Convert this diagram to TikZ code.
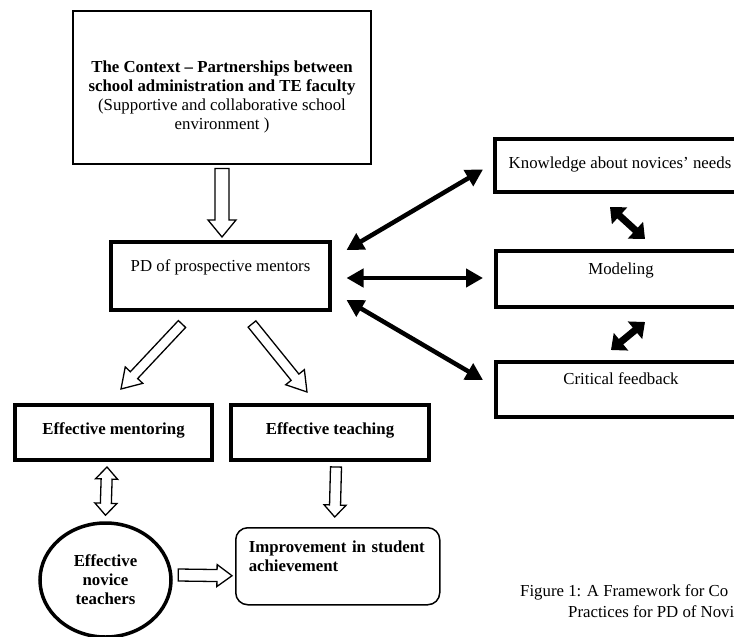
\documentclass[tikz,border=0pt]{standalone}
\usepackage{fontspec}
\setmainfont{Liberation Serif}
\usetikzlibrary{arrows.meta,calc,shapes.geometric}

% Hollow block arrow: from, to, half shaft, half head, head length
\newcommand{\blockarrow}[5]{%
  \path let \p1=(#1), \p2=(#2) in
    \pgfextra{\pgfmathparse{atan2(\y2-\y1,\x2-\x1)}\xdef\barang{\pgfmathresult}%
              \pgfmathparse{veclen(\x2-\x1,\y2-\y1)}\xdef\barlen{\pgfmathresult}};
  \begin{scope}[shift={(#1)},rotate=\barang]
    \draw[hollow] (0pt,-#3pt) -- ({\barlen pt-#5pt},-#3pt) -- ({\barlen pt-#5pt},-#4pt)
      -- (\barlen pt,0pt) -- ({\barlen pt-#5pt},#4pt) -- ({\barlen pt-#5pt},#3pt)
      -- (0pt,#3pt) -- cycle;
  \end{scope}}

% Hollow block arrow with two heads
\newcommand{\blockarrowboth}[5]{%
  \path let \p1=(#1), \p2=(#2) in
    \pgfextra{\pgfmathparse{atan2(\y2-\y1,\x2-\x1)}\xdef\barang{\pgfmathresult}%
              \pgfmathparse{veclen(\x2-\x1,\y2-\y1)}\xdef\barlen{\pgfmathresult}};
  \begin{scope}[shift={(#1)},rotate=\barang]
    \draw[hollow] (0pt,0pt) -- (#5pt,-#4pt) -- (#5pt,-#3pt) -- ({\barlen pt-#5pt},-#3pt)
      -- ({\barlen pt-#5pt},-#4pt) -- (\barlen pt,0pt) -- ({\barlen pt-#5pt},#4pt)
      -- ({\barlen pt-#5pt},#3pt) -- (#5pt,#3pt) -- (#5pt,#4pt) -- cycle;
  \end{scope}}

\begin{document}
\begin{tikzpicture}[x=1pt,y=-1pt,
    every node/.style={font=\fontsize{16.8}{19}\selectfont},
    thinbox/.style={draw, line width=1.5pt, inner sep=0pt, align=center},
    thickbox/.style={draw, line width=4pt, inner sep=0pt, align=center},
    hollow/.style={draw, line width=1.3pt, fill=white, line join=miter},
    link/.style={line width=4.5pt, {Triangle[length=17pt,width=18pt]}-{Triangle[length=17pt,width=18pt]}},
    shortlink/.style={line width=7pt, {Triangle[length=13pt,width=22pt]}-{Triangle[length=13pt,width=22pt]}}]

    \useasboundingbox (0,0) rectangle (734,637);
    \clip (0,0) rectangle (734,637);

    % Context box
    \node[thinbox, anchor=north, minimum width=298pt, text height=119pt, text depth=34pt] (context) at (222,10)
        {\textbf{The Context -- Partnerships between}\\ \textbf{school administration and TE faculty}\\
         (Supportive and collaborative school\\ environment )};

    % PD box and the three practices
    \node[thickbox, anchor=north, minimum width=219pt, text height=29pt, text depth=39pt] (pd) at (220.5,240)
        {PD of prospective mentors};
    \node[thickbox, anchor=north west, minimum width=250pt, text height=29pt, text depth=24pt] (know) at (493,137)
        {Knowledge about novices' needs};
    \node[thickbox, anchor=north west, minimum width=250pt, text height=23pt, text depth=33pt] (model) at (494,249)
        {Modeling};
    \node[thickbox, anchor=north west, minimum width=250pt, text height=22pt, text depth=33pt] (crit) at (494,360)
        {Critical feedback};

    % Outcomes
    \node[thickbox, anchor=north west, minimum width=197pt, text height=29pt, text depth=26pt] (mentor) at (13,403)
        {\textbf{Effective mentoring}};
    \node[thickbox, anchor=north west, minimum width=198pt, text height=29pt, text depth=26pt] (teach) at (229,403)
        {\textbf{Effective teaching}};
    \node[draw, ellipse, line width=3.5pt, inner sep=0pt, align=center, minimum width=131pt, minimum height=114pt] (novice)
        at (105.5,580) {\textbf{Effective}\\ \textbf{novice}\\ \textbf{teachers}};
    \node[draw, rounded corners=12pt, line width=1.5pt, anchor=north west, inner xsep=13pt, inner ysep=0pt,
        align=left, text width=178pt, text height=25pt, text depth=52pt] (improve) at (235,527)
        {\mbox{\textbf{Improvement in student}}\\ \textbf{achievement}};

    % Caption
    \node[anchor=base west, inner sep=0pt] (cap1) at (520,596) {Figure 1: A Framework for Co};
    \node[anchor=base west, inner sep=0pt] (cap2) at (568,617) {Practices for PD of Novi};

    % End points of the hollow arrows
    \coordinate (a1) at ($(context.south)+(0,4)$);
    \coordinate (a2) at ($(pd.north)+(1.5,-3)$);
    \coordinate (b1) at ($(pd.south)+(-38.5,12)$);
    \coordinate (b2) at ($(mentor.north)+(7.5,-14)$);
    \coordinate (c1) at ($(pd.south)+(31.5,12)$);
    \coordinate (c2) at ($(teach.north)+(-23,-11)$);
    \coordinate (d1) at ($(mentor.south)+(-6.5,5)$);
    \coordinate (d2) at ($(novice.north)+(0,-6)$);
    \coordinate (e1) at ($(teach.south)+(6,5)$);
    \coordinate (e2) at ($(improve.north)+(-3,-10)$);
    \coordinate (f1) at ($(novice.east)+(5.5,-5)$);
    \coordinate (f2) at ($(improve.west)+(-3,9.5)$);

    % Hollow arrows
    \blockarrow{a1}{a2}{7}{14}{17}
    \blockarrow{b1}{b2}{5}{12}{19}
    \blockarrow{c1}{c2}{5}{12}{19}
    \blockarrowboth{d1}{d2}{5.5}{11}{12}
    \blockarrow{e1}{e2}{5.5}{11}{12}
    \blockarrow{f1}{f2}{6}{11}{15}

    % Black double arrows
    \draw[link] ($(pd.east)+(14.5,-26)$) -- ($(know.west)+(-10,4)$);
    \draw[link] ($(pd.east)+(14.5,2)$) -- ($(model.west)+(-11,-1)$);
    \draw[link] ($(pd.east)+(14.5,24)$) -- ($(crit.west)+(-11,-9.5)$);
    \draw[shortlink] ($(know.south)+(-10,13)$) -- ($(model.north)+(24,-10)$);
    \draw[shortlink] ($(model.south)+(24,13)$) -- ($(crit.north)+(-10,-10)$);

\end{tikzpicture}
\end{document}
